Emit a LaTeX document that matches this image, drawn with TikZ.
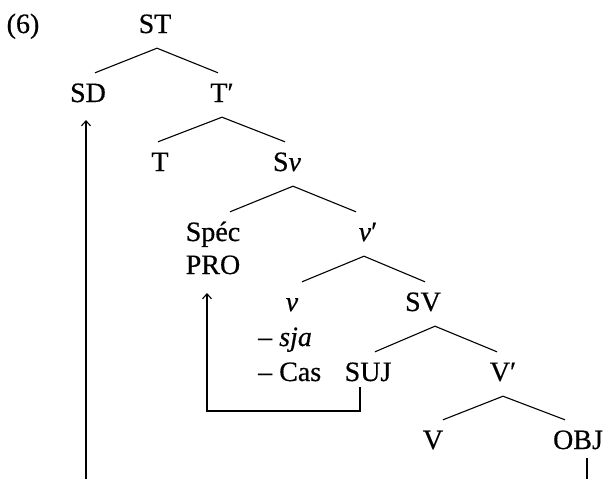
\documentclass[tikz,border=0pt]{standalone}
\usepackage{fontspec}
\setmainfont{Liberation Serif}[FakeBold=0.5]
\usetikzlibrary{arrows.meta}
\begin{document}
\begin{tikzpicture}[x=1pt,y=-1pt,
  lab/.style={anchor=base, font=\fontsize{28}{30}\selectfont, text height=18pt, text depth=4pt, inner xsep=0pt, inner ysep=11pt},
  feat/.style={anchor=base west, font=\fontsize{28}{30}\selectfont, inner sep=0pt},
  br/.style={line width=1.1pt},
  mv/.style={line width=1.1pt, -{Straight Barb[length=5pt,width=9pt]}}]
\useasboundingbox (0,0) rectangle (604,479);
% labels
\node[lab] (ex) at (23,33) {(6)};
\node[lab] (ST) at (155,33) {ST};
\node[lab] (SD) at (88,102) {SD};
\node[lab] (Tb) at (222,102) {T′};
\node[lab] (T) at (160,171) {T};
\node[lab] (Sv) at (287,171) {S\textit{v}};
\node[lab] (Spec) at (213,241) {Spéc};
\node[lab] (PRO) at (213,274) {PRO};
\node[lab] (vb) at (368,241) {\textit{v}′};
\node[lab] (v) at (292,311) {\textit{v}};
\node[lab] (SV) at (423,311) {SV};
\node[feat] (sja) at (258,346) {– \textit{sja}};
\node[feat] (cas) at (258,381) {– Cas};
\node[lab] (SUJ) at (368,381) {SUJ};
\node[lab] (Vb) at (503,381) {V′};
\node[lab] (V) at (433,449) {V};
\node[lab] (OBJ) at (578,449) {OBJ};
% branches
\draw[br] ([xshift=2pt]ST.south) -- ([xshift=7pt]SD.north);
\draw[br] ([xshift=2pt]ST.south) -- ([xshift=-4pt]Tb.north);
\draw[br] (Tb.south) -- ([xshift=-2pt]T.north);
\draw[br] (Tb.south) -- ([xshift=-2pt]Sv.north);
\draw[br] ([xshift=6pt]Sv.south) -- ([xshift=17pt]Spec.north);
\draw[br] ([xshift=6pt]Sv.south) -- ([xshift=-12pt]vb.north);
\draw[br] ([xshift=-4pt]vb.south) -- ([xshift=10pt]v.north);
\draw[br] ([xshift=-4pt]vb.south) -- ([xshift=2pt]SV.north);
\draw[br] ([xshift=12pt]SV.south) -- ([xshift=7pt]SUJ.north);
\draw[br] ([xshift=12pt]SV.south) -- ([xshift=-6pt]Vb.north);
\draw[br] (Vb.south) -- ([xshift=10pt]V.north);
\draw[br] (Vb.south) -- ([xshift=-13pt]OBJ.north);
% movement
\coordinate (sujfoot) at (360,387);
\coordinate (protip) at (207,293);
\coordinate (sdtail) at (86,479);
\coordinate (sdtip) at (86,120);
\coordinate (objfoot) at (587,458);
\coordinate (objend) at (587,479);
\draw[mv] (sujfoot) -- (360,411) -| (protip);
\draw[mv] (sdtail) -- (sdtip);
\draw[br] (objfoot) -- (objend);
\end{tikzpicture}
\end{document}
